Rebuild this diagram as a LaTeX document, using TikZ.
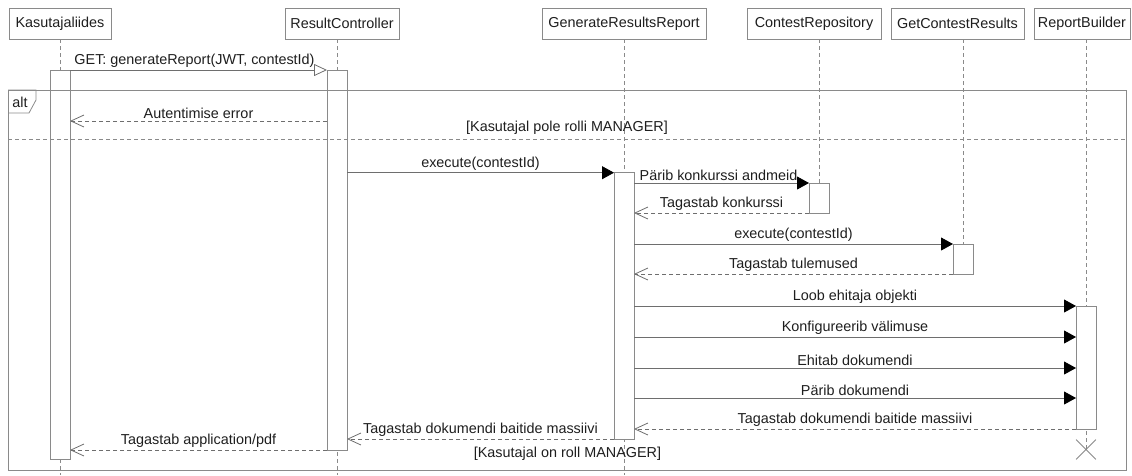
\documentclass[tikz,border=0pt]{standalone}
\usepackage{fontspec}
\setmainfont{Liberation Sans}
\usetikzlibrary{arrows.meta,shapes.misc}
\definecolor{ln}{HTML}{8A8A8A}
\definecolor{msg}{HTML}{6E6E6E}
\definecolor{txt}{HTML}{1E1E1E}
\begin{document}
\begin{tikzpicture}[x=1pt,y=-1pt,
  every node/.style={font=\fontsize{14.4}{16}\selectfont, text=txt},
  head/.style={draw=ln, line width=0.8pt, fill=white, minimum height=31pt, inner sep=0pt, outer sep=0pt},
  lifeline/.style={draw=ln, line width=0.8pt, dash pattern=on 4pt off 3pt},
  actbar/.style={draw=ln, line width=0.8pt, fill=white, minimum width=20pt, inner sep=0pt, outer sep=0pt, anchor=north},
  call/.style={draw=msg, line width=0.8pt, -{Triangle[length=12pt,width=13pt,color=black]}},
  async/.style={draw=msg, line width=0.8pt, -{Triangle[open,length=13pt,width=12pt]}},
  reply/.style={draw=msg, line width=0.8pt, dash pattern=on 4pt off 3pt, -{Straight Barb[length=13pt,width=12pt]}},
  lbl/.style={above, inner sep=1pt, yshift=1pt},
  framebox/.style={draw=ln, line width=0.8pt},
]
\useasboundingbox (0,0) rectangle (1132,475);
\coordinate (bot) at (0,475);

% headers
\node[head, minimum width=102pt] (kh) at (60,23.5) {Kasutajaliides};
\node[head, minimum width=114pt] (rh) at (342,23.5) {ResultController};
\node[head, minimum width=164pt] (gh) at (624,23.5) {GenerateResultsReport};
\node[head, minimum width=134pt] (ch) at (814,23.5) {ContestRepository};
\node[head, minimum width=133pt] (gch) at (957.5,23.5) {GetContestResults};
\node[head, minimum width=96pt] (rbh) at (1082,23.5) {ReportBuilder};

% activation bars (positions)
\coordinate (a1top) at (60,70);
\coordinate (a2top) at (337,70);
\coordinate (a3top) at (624,172.7);
\coordinate (a4top) at (819,183);
\coordinate (a5top) at (963,244);
\coordinate (a6top) at (1086,306);

% destroy marker
\node[cross out, draw=ln, line width=0.8pt, minimum size=19pt, inner sep=0pt] (kill) at (1086,449.5) {};

% lifelines
\draw[lifeline] (kh.south) -- (kh.south |- bot);
\draw[lifeline] (a2top |- rh.south) -- (a2top |- bot);
\draw[lifeline] (gh.south) -- (gh.south |- bot);
\draw[lifeline] (a4top |- ch.south) -- (a4top);
\draw[lifeline] (a5top |- gch.south) -- (a5top);
\draw[lifeline] (a6top |- rbh.south) -- (kill.center);

% activation bars
\node[actbar, minimum height=389pt] (a1) at (a1top) {};
\node[actbar, minimum height=380pt] (a2) at (a2top) {};
\node[actbar, minimum height=266.3pt] (a3) at (a3top) {};
\node[actbar, minimum height=30pt] (a4) at (a4top) {};
\node[actbar, minimum height=30pt] (a5) at (a5top) {};
\node[actbar, minimum height=123pt] (a6) at (a6top) {};

% alt frame
\node[framebox, minimum width=1118pt, minimum height=380pt, inner sep=0pt, outer sep=0pt, anchor=north west] (alt) at (8,90) {};
\draw[framebox] (alt.north west) -- ++(28,0) -- ++(0,10) -- ++(-7,13) -- (alt.west |- 0,113);
\node[inner sep=0pt] (altlbl) at (20,102) {alt};
\coordinate (sep) at (0,139);
\draw[lifeline] (alt.west |- sep) -- (alt.east |- sep);
\node[inner sep=0pt] (g1) at (567,128) {[Kasutajal pole rolli MANAGER]};
\node[inner sep=0pt] (g2) at (567.5,454) {[Kasutajal on roll MANAGER]};

% message rows
\coordinate (m2) at (0,121);
\coordinate (m9) at (0,337);
\coordinate (m10) at (0,368);
\coordinate (m11) at (0,398);

% messages
\draw[async] (a1.north east) -- node[lbl, xshift=-4pt] {GET: generateReport(JWT, contestId)} (a2.north west);
\draw[reply] (a2.west |- m2) -- node[lbl] {Autentimise error} (a1.east |- m2);
\draw[call] (a2.east |- a3.north) -- node[lbl] {execute(contestId)} (a3.north west);
\draw[call] (a3.east |- a4.north) -- node[lbl, xshift=-3pt] {Pärib konkurssi andmeid} (a4.north west);
\draw[reply] (a4.south west) -- node[lbl] {Tagastab konkurssi} (a3.east |- a4.south);
\draw[call] (a3.east |- a5.north) -- node[lbl] {execute(contestId)} (a5.north west);
\draw[reply] (a5.south west) -- node[lbl] {Tagastab tulemused} (a3.east |- a5.south);
\draw[call] (a3.east |- a6.north) -- node[lbl] {Loob ehitaja objekti} (a6.north west);
\draw[call] (a3.east |- m9) -- node[lbl] {Konfigureerib välimuse} (a6.west |- m9);
\draw[call] (a3.east |- m10) -- node[lbl] {Ehitab dokumendi} (a6.west |- m10);
\draw[call] (a3.east |- m11) -- node[lbl] {Pärib dokumendi} (a6.west |- m11);
\draw[reply] (a6.south west) -- node[lbl] {Tagastab dokumendi baitide massiivi} (a3.east |- a6.south);
\draw[reply] (a3.south west) -- node[lbl] {Tagastab dokumendi baitide massiivi} (a2.east |- a3.south);
\draw[reply] (a2.south west) -- node[lbl] {Tagastab application/pdf} (a1.east |- a2.south);
\end{tikzpicture}
\end{document}
